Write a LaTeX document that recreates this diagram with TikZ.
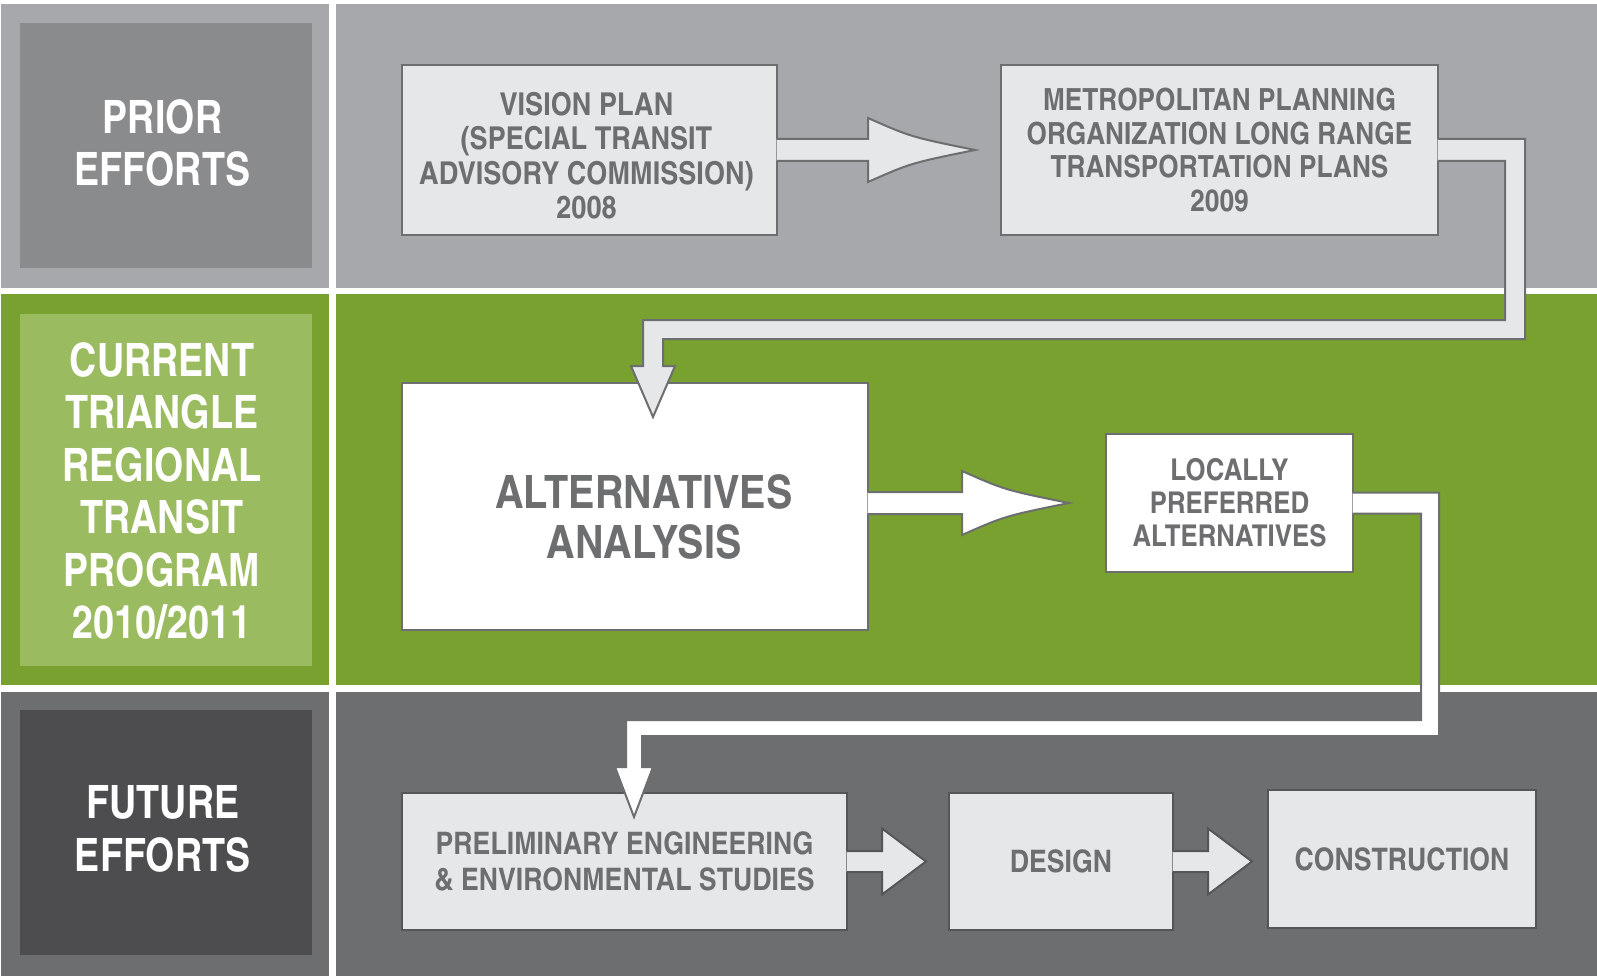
\documentclass[tikz,border=0pt]{standalone}
\usepackage{fontspec}
\setmainfont{texgyreheroscn-bold.otf}[FakeStretch=1.05]
\newfontfamily\sidefont{texgyreheroscn-bold.otf}
\usetikzlibrary{calc}
\definecolor{topgray}{HTML}{A7A8AB}
\definecolor{priorgray}{HTML}{8A8B8D}
\definecolor{bandgreen}{HTML}{78A130}
\definecolor{currentgreen}{HTML}{9BBB61}
\definecolor{botgray}{HTML}{6D6E70}
\definecolor{futuregray}{HTML}{4D4D4F}
\definecolor{boxgray}{HTML}{E6E7E8}
\definecolor{linegray}{HTML}{6D6E70}
\definecolor{darkline}{HTML}{555658}

\begin{document}
\begin{tikzpicture}[x=1pt,y=-1pt,
  side/.style={text=white, align=center, inner sep=0pt, font=\sidefont\fontsize{46}{52.5}\selectfont},
  phase/.style={draw=linegray, line width=2pt, fill=boxgray, text=linegray, align=center, inner sep=0pt},
  boxtext/.style={text=linegray, align=center, inner sep=0pt},
  flow/.style={draw=linegray, line width=2pt, fill=boxgray, line join=miter}]
  \useasboundingbox (0,0) rectangle (1597,976);
  \fill[white] (0,0) rectangle (1597,976);
  % bands
  \fill[topgray] (1,4) rectangle (329,288);
  \fill[topgray] (336,4) rectangle (1597,288);
  \fill[bandgreen] (1,294) rectangle (329,685);
  \fill[bandgreen] (336,294) rectangle (1597,685);
  \fill[botgray] (1,692) rectangle (329,976);
  \fill[botgray] (336,692) rectangle (1597,976);
  \fill[priorgray] (20,23) rectangle (312,268);
  \fill[currentgreen] (20,314) rectangle (312,666);
  \fill[futuregray] (20,710) rectangle (312,955);

  \node[side] (prior) at (162.5,143) {PRIOR\\EFFORTS};
  \node[side] (current) at (162,491) {CURRENT\\TRIANGLE\\REGIONAL\\TRANSIT\\PROGRAM\\2010/2011};
  \node[side] (future) at (163,829) {FUTURE\\EFFORTS};

  % steps
  \node[phase, minimum width=375, minimum height=170,
    label={[boxtext, shift={(-3,5.5)}, font=\fontsize{31.5}{34.5}\selectfont]center:{VISION PLAN\\(SPECIAL TRANSIT\\ADVISORY COMMISSION)\\2008}}]
    (vision) at (589.5,150) {};
  \node[phase, minimum width=437, minimum height=170,
    font=\fontsize{30.5}{33.5}\selectfont] (metro) at (1219.5,150)
    {METROPOLITAN PLANNING\\ORGANIZATION LONG RANGE\\TRANSPORTATION PLANS\\2009};
  \node[phase, fill=white, minimum width=466, minimum height=247,
    label={[boxtext, shift={(9,10)}, font=\fontsize{46}{50}\selectfont]center:{ALTERNATIVES\\ANALYSIS}}]
    (aa) at (635,506.5) {};
  \node[phase, fill=white, minimum width=247, minimum height=138,
    font=\fontsize{30}{33}\selectfont] (lpa) at (1229.5,503)
    {LOCALLY\\PREFERRED\\ALTERNATIVES};
  \node[phase, draw=darkline, minimum width=445, minimum height=137,
    font=\fontsize{31}{36}\selectfont] (prelim) at (624.5,861.5)
    {PRELIMINARY ENGINEERING\\\& ENVIRONMENTAL STUDIES};
  \node[phase, draw=darkline, minimum width=224, minimum height=137,
    font=\fontsize{31}{36}\selectfont] (design) at (1061,861.5) {DESIGN};
  \node[phase, draw=darkline, minimum width=268, minimum height=138,
    font=\fontsize{31}{36}\selectfont] (constr) at (1402,859) {CONSTRUCTION};

  % tips
  \coordinate (t1) at ([shift={(-25,0)}]metro.west);
  \coordinate (t2) at ([shift={(-36,0)}]lpa.west);
  \coordinate (t3) at ([shift={(-22,0)}]design.west);
  \coordinate (t4) at ($(constr.west |- design.east)+(-15,0)$);
  \coordinate (t5) at ([shift={(252,35)}]aa.north west);
  \coordinate (t6) at ([shift={(233,25)}]prelim.north west);

  \filldraw[flow] ([shift={(-1.5,-11)}]vision.east) -- ($(t1)+(-107,-11)$) -- ($(t1)+(-107,-32)$)
    .. controls ($(t1)+(-64,-13)$) .. (t1) .. controls ($(t1)+(-64,13)$) .. ($(t1)+(-107,32)$)
    -- ($(t1)+(-107,11)$) -- ([shift={(-1.5,11)}]vision.east);
  \filldraw[flow, fill=white] ($(aa.east |- t2)+(-1.5,-11)$) -- ($(t2)+(-107,-11)$) -- ($(t2)+(-107,-32)$)
    .. controls ($(t2)+(-64,-13)$) .. (t2) .. controls ($(t2)+(-64,13)$) .. ($(t2)+(-107,32)$)
    -- ($(t2)+(-107,11)$) -- ($(aa.east |- t2)+(-1.5,11)$);
  \filldraw[flow, draw=darkline] ([shift={(-1.5,-10.5)}]prelim.east) -- ($(t3)+(-44,-10.5)$) -- ($(t3)+(-44,-33)$)
    -- (t3) -- ($(t3)+(-44,33)$) -- ($(t3)+(-44,10.5)$) -- ([shift={(-1.5,10.5)}]prelim.east);
  \filldraw[flow, draw=darkline] ([shift={(-1.5,-10.5)}]design.east) -- ($(t4)+(-44,-10.5)$) -- ($(t4)+(-44,-33)$)
    -- (t4) -- ($(t4)+(-44,33)$) -- ($(t4)+(-44,10.5)$) -- ([shift={(-1.5,10.5)}]design.east);

  % elbows
  \filldraw[flow] ([shift={(-1.5,-11)}]metro.east) -- ++(87.5,0) |- ($(t5)+(10,-78)$)
    -- ($(t5)+(10,-51)$) -- ($(t5)+(22,-51)$) -- (t5) -- ($(t5)+(-22,-51)$) -- ($(t5)+(-10,-51)$)
    |- ($(metro.east)+(66,170)$) -- ([shift={(66,11)}]metro.east) -- ([shift={(-1.5,11)}]metro.east);
  \filldraw[flow, fill=white] ([shift={(-1.5,-10.5)}]lpa.east) -- ++(86.5,0) |- ($(t6)+(8,-81)$)
    -- ($(t6)+(8,-50)$) -- ($(t6)+(19,-50)$) -- (t6) -- ($(t6)+(-19,-50)$) -- ($(t6)+(-8,-50)$)
    |- ($(lpa.east)+(67,217)$) -- ([shift={(67,10.5)}]lpa.east) -- ([shift={(-1.5,10.5)}]lpa.east);
\end{tikzpicture}
\end{document}
